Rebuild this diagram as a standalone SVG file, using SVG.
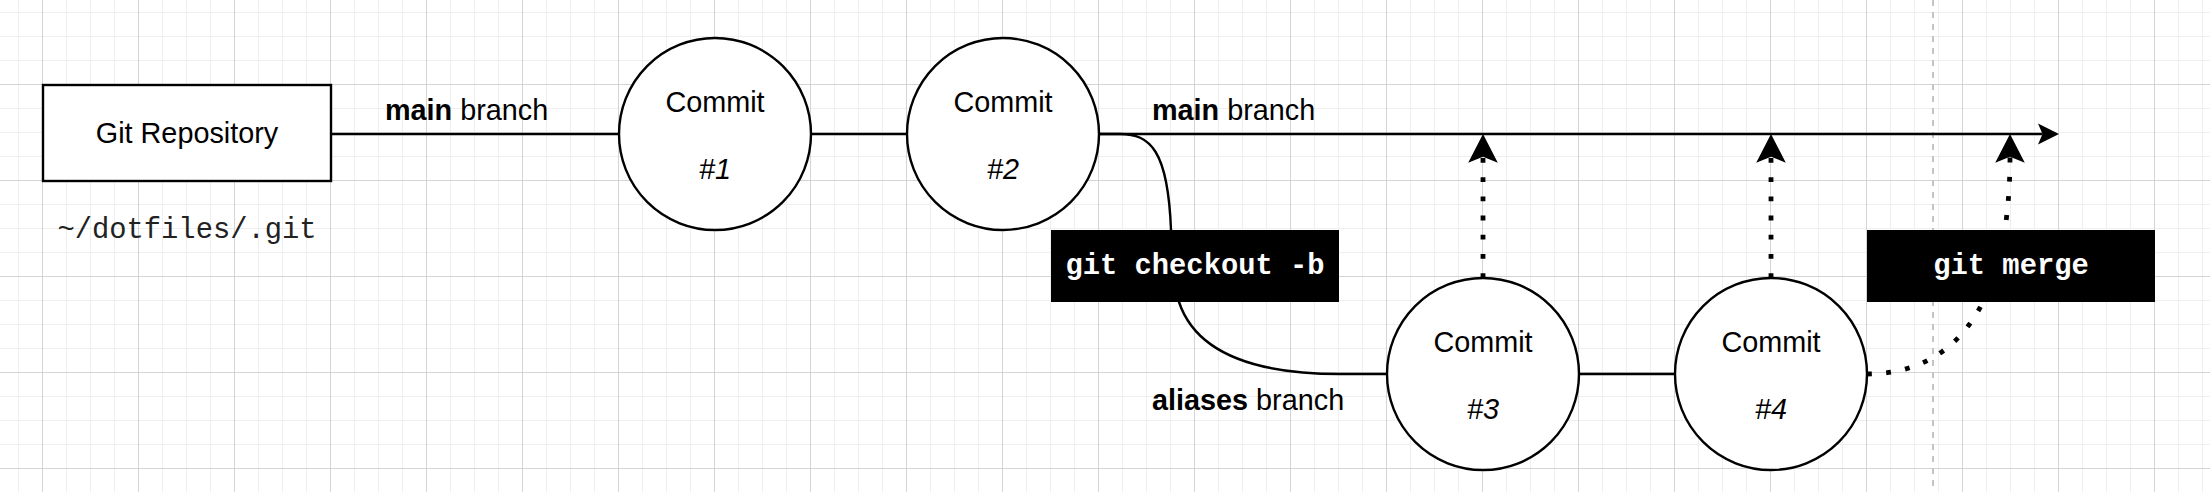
<svg xmlns="http://www.w3.org/2000/svg" width="2210" height="492" viewBox="0 0 2210 492">
<defs>
  <style>
    .sans { font-family: "Liberation Sans", Arial, Helvetica, sans-serif; font-size: 28.8px; fill: #000; }
    .mono { font-family: "Liberation Mono", "Courier New", monospace; font-size: 28.8px; }
    .shape { fill: #fff; stroke: #000; stroke-width: 2.4; }
    .edge { fill: none; stroke: #000; stroke-width: 2.4; }
    .dot { fill: none; stroke: #000; stroke-width: 4.8; stroke-dasharray: 4.8 14.4; }
    .lbl { fill: #000; stroke: none; }
    .lbltext { fill: #fff; font-weight: bold; text-anchor: middle; }
  </style>
  <pattern id="minorGrid" width="24" height="24" patternUnits="userSpaceOnUse" x="42" y="84">
    <path d="M0,0.5 H24 M0.5,0 V24" stroke="#efefef" stroke-width="1" fill="none"/>
  </pattern>
  <pattern id="majorGrid" width="96" height="96" patternUnits="userSpaceOnUse" x="42" y="84">
    <path d="M0,0.5 H96 M0.5,0 V96" stroke="#d4d4d4" stroke-width="1" fill="none"/>
  </pattern>
  <marker id="arrowSmall" markerUnits="userSpaceOnUse" markerWidth="40" markerHeight="40" viewBox="-20 -20 40 40" refX="0" refY="0" orient="auto" overflow="visible">
    <path d="M16.5,0 L-4.5,-10.5 L0,0 L-4.5,10.5 Z" fill="#000" stroke="none"/>
  </marker>
  <marker id="arrowBig" markerUnits="userSpaceOnUse" markerWidth="40" markerHeight="40" viewBox="-20 -20 40 40" refX="0" refY="0" orient="auto" overflow="visible">
    <path d="M22.7,0 L-6,-14.8 L0,0 L-6,14.8 Z" fill="#000" stroke="none"/>
  </marker>
</defs>

<g id="background">
  <rect x="0" y="0" width="2210" height="492" fill="#fff"/>
  <rect x="0" y="0" width="2210" height="492" fill="url(#minorGrid)"/>
  <rect x="0" y="0" width="2210" height="492" fill="url(#majorGrid)"/>
  <line x1="1933" y1="0" x2="1933" y2="492" stroke="#c4c4c4" stroke-width="2" stroke-dasharray="6 6"/>
</g>

<g id="connectors">
  <path class="edge" d="M331,134 H619"/>
  <path class="edge" d="M811,134 H907"/>
  <path class="edge" d="M1099,134 H2042.5" marker-end="url(#arrowSmall)"/>
  <path class="edge" d="M1099,134 L1120,134 C1150,134 1168,150 1171,230 L1179,302 C1195,350 1250,374 1340,374 L1387,374"/>
  <path class="edge" d="M1579,374 H1675"/>
  <path class="dot" d="M1483,278 V156.7" marker-end="url(#arrowBig)"/>
  <path class="dot" d="M1771,278 V156.7" marker-end="url(#arrowBig)"/>
  <path class="dot" d="M1867,374 C1945,374 2010,320 2010,156.7" marker-end="url(#arrowBig)"/>
</g>

<g id="repo">
  <rect class="shape" x="43" y="85" width="288" height="96"/>
  <text class="sans" x="187" y="143" text-anchor="middle">Git Repository</text>
</g>

<g id="repo-path">
  <text class="mono" x="187" y="238" text-anchor="middle" fill="#222">~/dotfiles/.git</text>
</g>

<g id="commit1">
  <circle class="shape" cx="715" cy="134" r="96"/>
  <text class="sans" x="715" y="112" text-anchor="middle">Commit</text>
  <text class="sans" x="715" y="179" text-anchor="middle" font-style="italic">#1</text>
</g>

<g id="commit2">
  <circle class="shape" cx="1003" cy="134" r="96"/>
  <text class="sans" x="1003" y="112" text-anchor="middle">Commit</text>
  <text class="sans" x="1003" y="179" text-anchor="middle" font-style="italic">#2</text>
</g>

<g id="commit3">
  <circle class="shape" cx="1483" cy="374" r="96"/>
  <text class="sans" x="1483" y="352" text-anchor="middle">Commit</text>
  <text class="sans" x="1483" y="419" text-anchor="middle" font-style="italic">#3</text>
</g>

<g id="commit4">
  <circle class="shape" cx="1771" cy="374" r="96"/>
  <text class="sans" x="1771" y="352" text-anchor="middle">Commit</text>
  <text class="sans" x="1771" y="419" text-anchor="middle" font-style="italic">#4</text>
</g>

<g id="label-checkout">
  <rect class="lbl" x="1051" y="230" width="288" height="72"/>
  <text class="mono lbltext" x="1195" y="274">git checkout -b</text>
</g>

<g id="label-merge">
  <rect class="lbl" x="1867" y="230" width="288" height="72"/>
  <text class="mono lbltext" x="2011" y="274">git merge</text>
</g>

<g id="label-main1">
  <text class="sans" x="385" y="120"><tspan font-weight="bold">main</tspan> branch</text>
</g>

<g id="label-main2">
  <text class="sans" x="1152" y="120"><tspan font-weight="bold">main</tspan> branch</text>
</g>

<g id="label-aliases">
  <text class="sans" x="1152" y="410"><tspan font-weight="bold">aliases</tspan> branch</text>
</g>
</svg>
